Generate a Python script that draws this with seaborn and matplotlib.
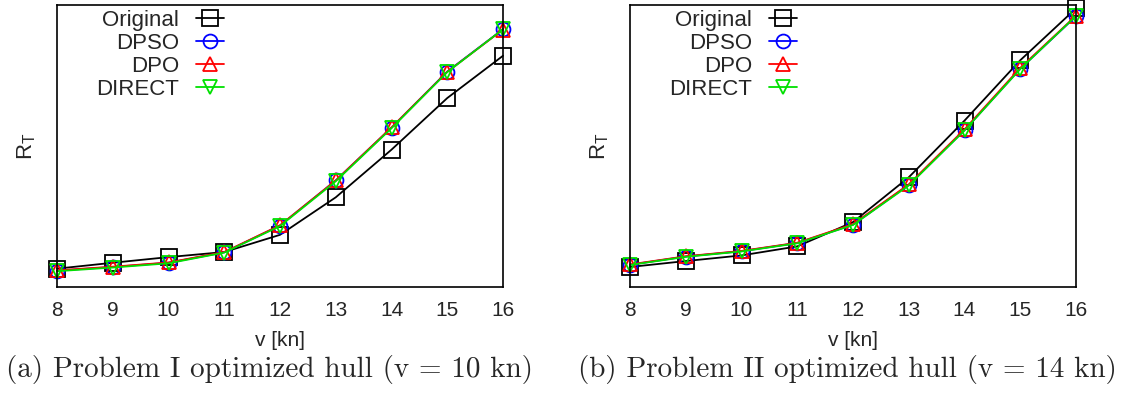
import matplotlib
matplotlib.use("Agg")
import matplotlib.pyplot as plt
import seaborn as sns
import pandas as pd

# ---- data (R_T, arbitrary units: 0 = bottom, 100 = top of axis) ----
speeds = [8, 9, 10, 11, 12, 13, 14, 15, 16]
methods = ["Original", "DPSO", "DPO", "DIRECT"]

p1_original = [6.5, 8.6, 10.6, 12.4, 18.5, 31.8, 48.7, 67.0, 82.0]
p1_dpso     = [5.8, 7.1, 8.6, 12.3, 21.8, 37.8, 56.5, 76.4, 91.4]
p1_dpo      = [5.9, 7.2, 8.7, 12.4, 21.9, 37.8, 56.6, 76.3, 91.3]
p1_direct   = [5.6, 6.9, 8.4, 12.2, 21.6, 37.5, 56.3, 76.2, 91.4]

p2_original = [7.1, 9.2, 11.2, 14.4, 23.0, 38.9, 59.0, 80.4, 98.8]
p2_dpso     = [7.9, 10.8, 12.7, 15.6, 22.1, 36.2, 55.6, 77.4, 96.0]
p2_dpo      = [8.0, 10.9, 12.8, 15.7, 22.3, 36.4, 55.9, 77.7, 96.2]
p2_direct   = [7.8, 10.7, 12.6, 15.5, 22.0, 36.0, 55.5, 77.3, 96.1]

x_label = "v [kn]"
y_label = r"R$_\mathregular{T}$"
captions = ["(a) Problem I optimized hull (v = 10 kn)",
            "(b) Problem II optimized hull (v = 14 kn)"]

colors = {"Original": "#000000", "DPSO": "#0000ff", "DPO": "#ff0000", "DIRECT": "#00e000"}
markers = {"Original": "s", "DPSO": "o", "DPO": "^", "DIRECT": "v"}

panels = [
    {"Original": p1_original, "DPSO": p1_dpso, "DPO": p1_dpo, "DIRECT": p1_direct},
    {"Original": p2_original, "DPSO": p2_dpso, "DPO": p2_dpo, "DIRECT": p2_direct},
]

sns.set_theme(style="white")
plt.rcParams["font.family"] = ["Liberation Sans", "DejaVu Sans"]
plt.rcParams["mathtext.default"] = "regular"

fig = plt.figure(figsize=(11.23, 3.94), dpi=100)
ax_rects = [
    [57 / 1123, 1 - 287 / 394, 446 / 1123, 282 / 394],
    [630 / 1123, 1 - 287 / 394, 446 / 1123, 282 / 394],
]
cap_x = [270 / 1123, 847 / 1123]

for rect, series, cap, cx in zip(ax_rects, panels, captions, cap_x):
    ax = fig.add_axes(rect)
    rows = []
    for m in methods:
        for v, r in zip(speeds, series[m]):
            rows.append({"v": v, "RT": r, "method": m})
    df = pd.DataFrame(rows)
    for m in methods:
        sub = df[df["method"] == m]
        sns.lineplot(data=sub, x="v", y="RT", ax=ax, color=colors[m],
                     marker=markers[m], markersize=11 if m == "Original" else 10,
                     markerfacecolor="none", markeredgecolor=colors[m],
                     markeredgewidth=1.3, linewidth=1.3, label=m, clip_on=False)
    ax.set_xlim(8, 16)
    ax.set_ylim(0, 100)
    ax.set_xticks(speeds)
    ax.set_xticklabels([str(s) for s in speeds])
    ax.set_yticks([])
    ax.tick_params(axis="x", length=0, pad=10, labelsize=15)
    for sp in ax.spines.values():
        sp.set_visible(True)
        sp.set_color("black")
        sp.set_linewidth(1.2)
    ax.set_xlabel(x_label, fontsize=15, labelpad=8)
    ax.set_ylabel(y_label, fontsize=16, labelpad=14)
    leg = ax.legend(loc="upper right", bbox_to_anchor=(0.374, 0.984), frameon=False,
                    markerfirst=False, fontsize=16, handlelength=1.25,
                    handletextpad=0.75, labelspacing=0.09, borderaxespad=0.0,
                    borderpad=0.0)
    for t in leg.get_texts():
        t.set_ha("right")
    leg._legend_box.align = "right"
    fig.text(cx, 1 - 370 / 394, cap, ha="center", va="center",
             fontsize=21, family=["cmr10", "DejaVu Serif"])

fig.savefig("out.png", dpi=100)
